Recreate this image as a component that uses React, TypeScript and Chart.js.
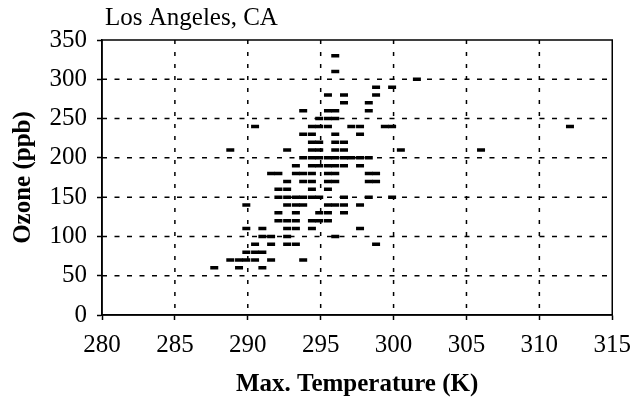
import { useEffect, useRef } from "react";
import { Chart, registerables } from "chart.js";

Chart.register(...registerables);

// Titles
const chartTitle = "Los Angeles, CA";
const xAxisTitle = "Max. Temperature (K)";
const yAxisTitle = "Ozone (ppb)";

// Axis ticks
const tempTicks = [280, 285, 290, 295, 300, 305, 310, 315];
const ozoneTicks = [0, 50, 100, 150, 200, 250, 300, 350];

// Daily observations, grouped by ozone level (ppb); each level lists the max temperatures (K)
const ozoneLevels = [330, 310, 300, 290, 280, 270, 260, 250, 240, 230, 220, 210, 200, 190, 180, 170, 160, 150, 140, 130, 120, 110, 100, 90, 80, 70, 60];
const tempsAtLevel = [
  [296.0],
  [296.0],
  [301.6],
  [298.8, 299.9],
  [295.5, 296.6, 298.8],
  [296.6, 298.3],
  [293.8, 295.5, 296.0, 298.3],
  [294.9, 295.5, 296.0],
  [290.5, 294.4, 294.9, 295.5, 297.1, 297.7, 299.4, 299.9, 312.1],
  [293.8, 294.4, 296.0, 297.7],
  [294.4, 294.9, 296.0, 296.6],
  [288.8, 292.7, 294.4, 294.9, 296.0, 296.6, 300.5, 306.0],
  [293.8, 294.4, 294.9, 295.5, 296.0, 296.6, 297.1, 297.7, 298.3],
  [293.3, 294.4, 294.9, 295.5, 296.0, 296.6, 297.7],
  [291.6, 292.1, 293.3, 293.8, 294.4, 295.5, 296.0, 298.3, 298.8],
  [292.7, 293.8, 294.4, 295.5, 296.0, 298.3, 298.8],
  [292.1, 292.7, 294.4, 295.5],
  [292.1, 292.7, 293.3, 293.8, 294.4, 294.9, 296.6, 298.3, 299.9],
  [289.9, 292.7, 293.3, 293.8, 295.5, 296.0, 296.6, 297.7],
  [292.1, 293.3, 294.9, 295.5, 296.6],
  [292.1, 292.7, 293.3, 294.4, 294.9, 295.5],
  [289.9, 291.0, 292.7, 293.3, 294.4, 297.7],
  [291.0, 291.6, 292.7, 296.0],
  [290.5, 291.6, 292.7, 293.3, 298.8],
  [289.9, 290.5, 291.0],
  [288.8, 289.4, 289.9, 290.5, 291.6, 293.8],
  [287.7, 289.4, 291.0],
];

const SERIF = "'Liberation Serif', 'Times New Roman', serif";

// Dashed grid inside the plot, then a solid box around it
const plotGrid = {
  id: "plotGrid",
  beforeDatasetsDraw(chart: any) {
    const { ctx, chartArea, scales } = chart;
    const { left, right, top, bottom } = chartArea;
    ctx.save();
    ctx.strokeStyle = "#000";
    ctx.lineWidth = 1.5;
    ctx.lineCap = "butt";

    ctx.setLineDash([4, 8]);
    tempTicks.forEach((v) => {
      const x = scales.x.getPixelForValue(v);
      if (x <= left + 1 || x >= right - 1) return;
      ctx.beginPath();
      ctx.moveTo(x, top);
      ctx.lineTo(x, bottom);
      ctx.stroke();
    });

    ctx.setLineDash([5, 7.5]);
    ozoneTicks.forEach((v) => {
      const y = scales.y.getPixelForValue(v);
      if (y <= top + 1 || y >= bottom - 1) return;
      ctx.beginPath();
      ctx.moveTo(left, y);
      ctx.lineTo(right, y);
      ctx.stroke();
    });

    ctx.setLineDash([]);
    ctx.lineWidth = 1.5;
    ctx.strokeRect(left, top, right - left, bottom - top);
    ctx.restore();
  },
};

// Location caption above the top-left corner of the plot
const caption = {
  id: "caption",
  afterDraw(chart: any) {
    const { ctx, chartArea } = chart;
    ctx.save();
    ctx.fillStyle = "#000";
    ctx.font = `25px ${SERIF}`;
    ctx.textAlign = "left";
    ctx.textBaseline = "alphabetic";
    ctx.fillText(chartTitle, chartArea.left + 3, 25);
    ctx.restore();
  },
};

const gridOpts = {
  drawOnChartArea: false,
  color: "#000",
  lineWidth: 1,
  tickLength: 5,
  tickColor: "#000",
  tickWidth: 1.5,
  tickBorderDash: [],
};

export default function App() {
  const canvasRef = useRef<HTMLCanvasElement | null>(null);

  useEffect(() => {
    if (!canvasRef.current) return;
    const points: { x: number; y: number }[] = [];
    ozoneLevels.forEach((o, i) => {
      tempsAtLevel[i].forEach((t) => points.push({ x: t, y: o }));
    });

    const chart = new Chart(canvasRef.current, {
      type: "scatter",
      data: {
        datasets: [
          {
            data: points,
            pointStyle: "line",
            pointRadius: 4,
            pointHoverRadius: 4,
            pointBorderWidth: 3.5,
            borderColor: "#000",
            backgroundColor: "#000",
          },
        ],
      },
      options: {
        animation: false,
        responsive: true,
        maintainAspectRatio: false,
        events: [],
        layout: { padding: { top: 40, right: 21, bottom: 0, left: 0 } },
        plugins: {
          legend: { display: false },
          tooltip: { enabled: false },
          title: { display: false },
        },
        scales: {
          x: {
            type: "linear",
            min: 280,
            max: 315,
            afterBuildTicks: (s: any) => {
              s.ticks = tempTicks.map((v) => ({ value: v }));
            },
            afterFit: (s: any) => {
              s.height = 85;
            },
            ticks: {
              autoSkip: false,
              maxRotation: 0,
              padding: 10,
              color: "#000",
              font: { family: SERIF, size: 25 },
            },
            grid: gridOpts,
            border: { display: true, color: "#000", width: 1.5 },
            title: {
              display: true,
              text: xAxisTitle,
              color: "#000",
              font: { family: SERIF, size: 25, weight: "bold" },
              padding: { top: 0, bottom: 0 },
            },
          },
          y: {
            type: "linear",
            min: 0,
            max: 350,
            afterBuildTicks: (s: any) => {
              s.ticks = ozoneTicks.map((v) => ({ value: v }));
            },
            afterFit: (s: any) => {
              s.width = 102;
            },
            ticks: {
              autoSkip: false,
              padding: 10,
              color: "#000",
              font: { family: SERIF, size: 25 },
            },
            grid: gridOpts,
            border: { display: true, color: "#000", width: 1.5 },
            title: {
              display: true,
              text: yAxisTitle,
              color: "#000",
              font: { family: SERIF, size: 25, weight: "bold" },
              padding: { top: 9, bottom: 0 },
            },
          },
        },
      },
      plugins: [plotGrid, caption],
    });

    return () => chart.destroy();
  }, []);

  return (
    <div style={{ position: "fixed", left: 0, top: 0, width: 641, height: 400, background: "#fff" }}>
      <canvas ref={canvasRef} />
    </div>
  );
}
